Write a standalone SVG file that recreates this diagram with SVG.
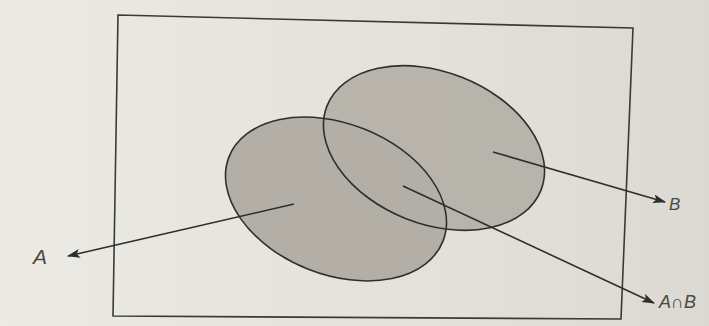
<svg xmlns="http://www.w3.org/2000/svg" width="709" height="326" viewBox="0 0 709 326">
  <defs>
    <linearGradient id="bg" x1="0" y1="0" x2="1" y2="0">
      <stop offset="0" stop-color="#eceae4"/>
      <stop offset="0.6" stop-color="#e4e1da"/>
      <stop offset="1" stop-color="#dcd9d2"/>
    </linearGradient>
    <marker id="arrow" viewBox="0 0 13 9" refX="12" refY="4.5" markerWidth="13" markerHeight="9" markerUnits="userSpaceOnUse" orient="auto">
      <path d="M0,0 L13,4.5 L0,9 L3,4.5 Z" fill="#2e2e2a"/>
    </marker>
    <style>
      .set { fill: #b3afa6; stroke: none; }
      .outline { fill: none; stroke: #2f2f2b; stroke-width: 1.6; }
      .frame { fill: none; stroke: #3a3a35; stroke-width: 1.6; }
      .conn { stroke: #2e2e2a; stroke-width: 1.6; fill: none; marker-end: url(#arrow); }
      .label { font-family: "Liberation Sans", "DejaVu Sans", sans-serif; font-style: italic; fill: #4a4a45; }
    </style>
  </defs>
  <rect x="0" y="0" width="709" height="326" fill="url(#bg)"/>
  <g id="universe">
    <polygon class="frame" points="118,15 633,28 621,319 113,316"/>
  </g>
  <g id="fills">
    <ellipse class="set" cx="336" cy="199" rx="115" ry="75.5" transform="rotate(21.5 336 199)"/>
    <ellipse class="set" cx="434" cy="148" rx="115" ry="76" transform="rotate(21.5 434 148)" fill-opacity="0.9"/>
  </g>
  <g id="set-A">
    <ellipse class="outline" cx="336" cy="199" rx="115" ry="75.5" transform="rotate(21.5 336 199)"/>
  </g>
  <g id="set-B">
    <ellipse class="outline" cx="434" cy="148" rx="115" ry="76" transform="rotate(21.5 434 148)"/>
  </g>
  <g id="connectors">
    <line class="conn" x1="294" y1="204" x2="68" y2="256"/>
    <line class="conn" x1="493" y1="152" x2="665" y2="202"/>
    <line class="conn" x1="403" y1="186" x2="654" y2="303"/>
  </g>
  <g id="label-A"><text class="label" x="33" y="264" font-size="21">A</text></g>
  <g id="label-B"><text class="label" x="669" y="210" font-size="17">B</text></g>
  <g id="label-AnB"><text class="label" x="659" y="308" font-size="18">A∩B</text></g>
</svg>
